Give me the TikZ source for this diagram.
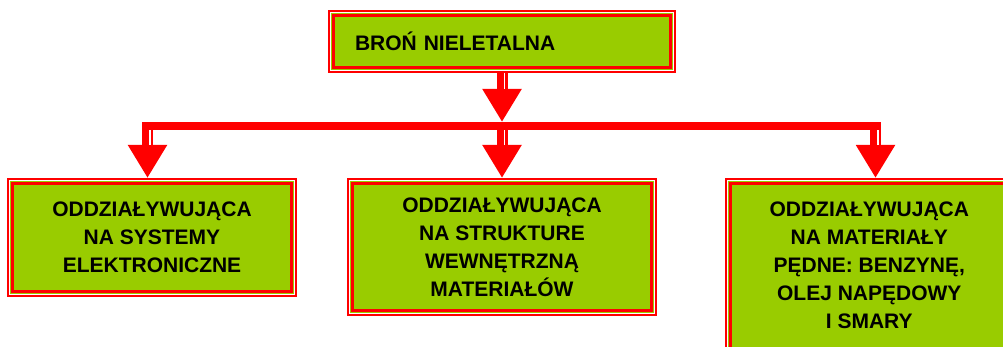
\documentclass[tikz,border=0pt]{standalone}
\usepackage{fontspec}
\setmainfont{Liberation Sans}
\usetikzlibrary{arrows.meta,positioning}
\definecolor{leaf}{HTML}{99CC00}

\begin{document}
\begin{tikzpicture}[x=1pt,y=-1pt]
    \tikzset{block/.style= {fill=leaf, draw=red, line width=3pt
    , preaction={draw=red, line width=11pt}
    , preaction={draw=white, line width=7pt}
    , preaction={draw=leaf, line width=5pt}
    , inner sep=0pt
    , align=center
    , font=\fontsize{21}{28}\selectfont\bfseries
      },
    stem/.style= {draw=red, line width=11pt
    , -{Triangle[width=37pt,length=33pt]}
    , postaction={draw=white, line width=1.4pt, -, shorten >=33pt, transform canvas={xshift=2.5pt}}
      }
    }

\useasboundingbox (0,0) rectangle (1003,347);
\clip (0,0) rectangle (1003,347);

\node [block, align=left, text width=294pt, inner xsep=21.5pt, minimum height=52pt] (root) at (502,41.5) {BROŃ NIELETALNA};
\node [block, minimum width=279pt, minimum height=108pt] (node0) at (152,237.5) {ODDZIAŁYWUJĄCA\\NA SYSTEMY\\ELEKTRONICZNE};
\node [block, minimum width=299pt, minimum height=127pt] (node1) at (502,247) {ODDZIAŁYWUJĄCA\\NA STRUKTURE\\WEWNĘTRZNĄ\\MATERIAŁÓW};
\node [block, minimum width=277.5pt, minimum height=164.5pt] (node2) at (869.25,265.75) {ODDZIAŁYWUJĄCA\\NA MATERIAŁY\\PĘDNE: BENZYNĘ,\\OLEJ NAPĘDOWY\\I SMARY};

% junction line
\coordinate (bar) at (root.south |- 0,126);
\coordinate (jl) at (147.5,126);
\coordinate (jr) at (875.5,126);
\coordinate (t0) at (node0.north -| jl);
\coordinate (t1) at (node1.north -| bar);
\coordinate (t2) at (node2.north -| jr);

 \path[stem] ([yshift=-4pt]root.south) -- ([yshift=4pt]bar);
 \path[stem] (jl) -- ([yshift=4pt]t0);
 \path[stem] (bar) -- ([yshift=4pt]t1);
 \path[stem] (jr) -- ([yshift=4pt]t2);
 \path[draw=red, line width=8pt, shorten <=-5.5pt, shorten >=-5.5pt]
  (jl) -- (jr);
\end{tikzpicture}
\end{document}
